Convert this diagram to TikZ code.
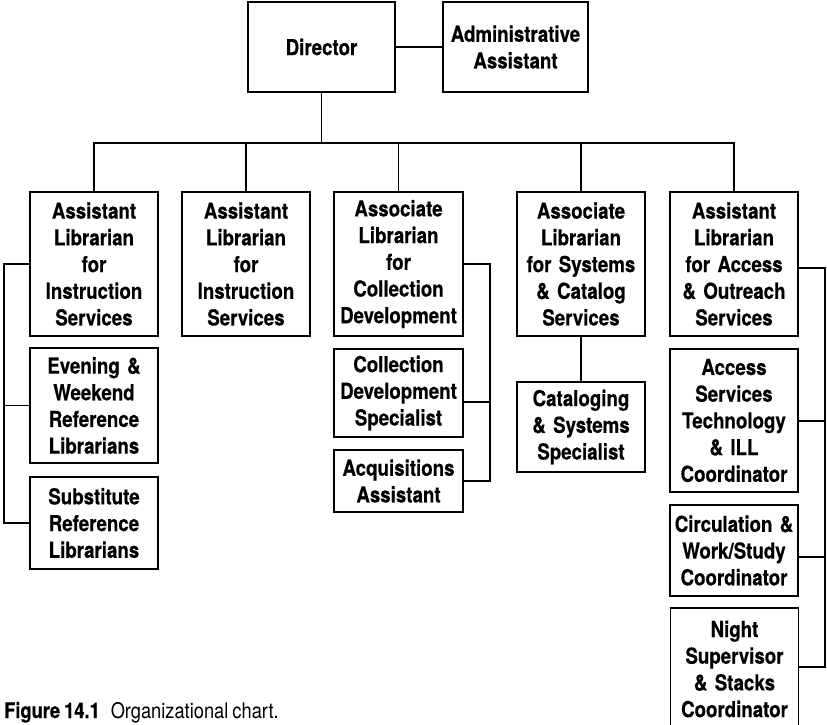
\documentclass[tikz,border=0pt]{standalone}
\usepackage{fontspec}
\setmainfont{TeX Gyre Heros}[FakeStretch=0.85, WordSpace=0.8, BoldFeatures={FakeBold=0.5}]
\begin{document}
\begin{tikzpicture}[x=1pt,y=-1pt,
  box/.style={draw, line width=1.5pt, inner sep=0pt, align=center,
    font=\fontsize{22}{26.7}\selectfont\bfseries, minimum width=128, text width=126},
  conn/.style={line width=1.3pt}]
\useasboundingbox (0,0) rectangle (827,724);
\clip (0,0) rectangle (827,724);
% top
\node[box, minimum width=147, minimum height=90] (dir) at (321.5,47) {Director};
\node[box, minimum width=145, minimum height=90, text width=143] (adm) at (515.5,47) {Administrative\\Assistant};
% row
\node[box, minimum height=144] (b1) at (94,264) {Assistant\\Librarian\\for\\Instruction\\Services};
\node[box, minimum height=144] (b2) at (246,264) {Assistant\\Librarian\\for\\Instruction\\Services};
\node[box, minimum width=129, minimum height=144] (b3) at (398.5,264) {Associate\\Librarian\\for\\Collection\\Development};
\node[box, minimum height=144] (b4) at (581,264) {Associate\\Librarian\\for Systems\\\& Catalog\\Services};
\node[box, minimum height=144] (b5) at (734,264) {Assistant\\Librarian\\for Access\\\& Outreach\\Services};
% subordinates
\node[box, minimum height=115] (eve) at (94,405.5) {Evening \&\\Weekend\\Reference\\Librarians};
\node[box, minimum height=92] (sub) at (94,523) {Substitute\\Reference\\Librarians};
\node[box, minimum width=129, minimum height=88] (cds) at (398.5,393) {Collection\\Development\\Specialist};
\node[box, minimum width=129, minimum height=62] (acq) at (398.5,481) {Acquisitions\\Assistant};
\node[box, minimum height=90] (cat) at (581,427) {Cataloging\\\& Systems\\Specialist};
\node[box, minimum height=143] (acc) at (734,420.5) {Access\\Services\\Technology\\\& ILL\\Coordinator};
\node[box, minimum height=91] (circ) at (734,550.5) {Circulation \&\\Work/Study\\Coordinator};
\node[box, minimum height=122] (night) at (734.5,669) {Night\\Supervisor\\\& Stacks\\Coordinator};
% caption
\node[anchor=base west, inner sep=0pt, font=\fontsize{21.5}{24}\selectfont] (cap) at (4,718)
  {\textbf{Figure 14.1}\hspace{11pt}Organizational chart.};
% connectors
\coordinate (bus) at (321.5,143);
\draw[conn] (adm.west) -- (dir.east);
\draw[conn] (dir.south) -- (bus);
\draw[conn] (b1.north) |- (bus) -| (b5.north);
\draw[conn] (b2.north) -- (b2.north |- bus);
\draw[conn] (b3.north) -- (b3.north |- bus);
\draw[conn] (b4.north) -- (b4.north |- bus);
% left group
\coordinate (lft) at (4,264);
\draw[conn] (b1.west) -- (lft) |- (sub.west);
\draw[conn] (eve.west) -- (eve.west -| lft);
% middle group
\coordinate (mr) at (490,264);
\coordinate (cdsr) at (490,402);
\draw[conn] (b3.east) -- (mr) |- (acq.east);
\draw[conn] (cdsr) -- (cdsr -| cds.east);
% systems
\draw[conn] (b4.south) -- (cat.north);
% right group
\coordinate (rt) at (825,268);
\coordinate (ra) at (825,421);
\coordinate (rc) at (825,557);
\coordinate (rb) at (825,667);
\draw[conn] (rt -| b5.east) -- (rt) -- (rb) -- (rb -| night.east);
\draw[conn] (ra) -- (ra -| acc.east);
\draw[conn] (rc) -- (rc -| circ.east);
\end{tikzpicture}
\end{document}
